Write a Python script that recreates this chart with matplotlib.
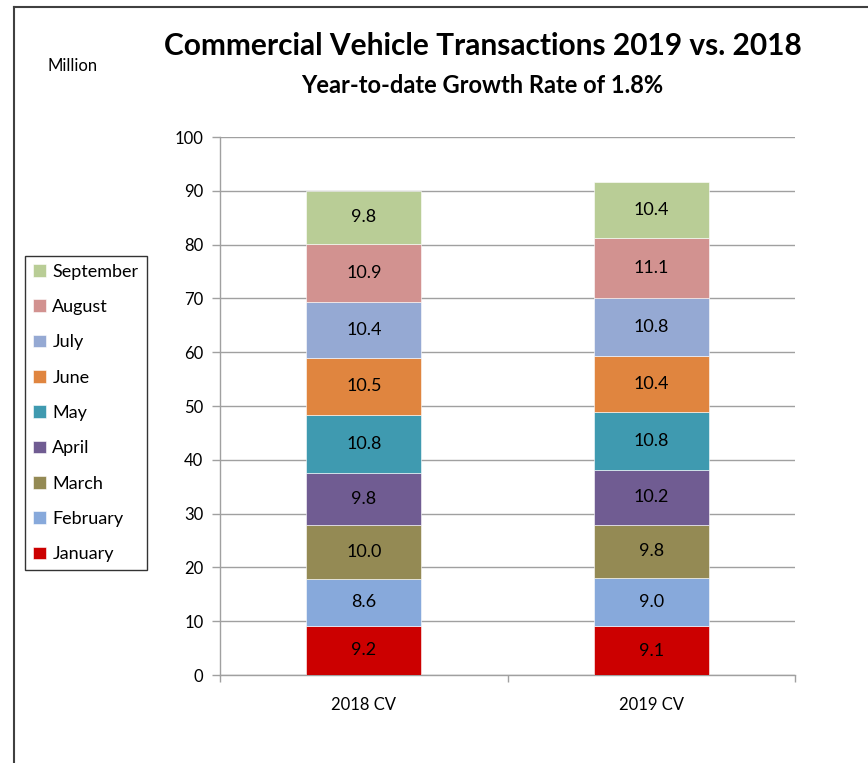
import matplotlib.pyplot as plt
from matplotlib.lines import Line2D

plt.rcParams["font.family"] = ["Lato", "DejaVu Sans"]

years = ["2018 CV", "2019 CV"]
months = ["January", "February", "March", "April", "May",
          "June", "July", "August", "September"]
values_2018 = [9.2, 8.6, 10.0, 9.8, 10.8, 10.5, 10.4, 10.9, 9.8]
values_2019 = [9.1, 9.0, 9.8, 10.2, 10.8, 10.4, 10.8, 11.1, 10.4]
colors = ["#CC0000", "#87A9DB", "#948A54", "#705C92", "#3F9AB0",
          "#E0853F", "#95A9D3", "#D29290", "#B9CD96"]

fig = plt.figure(figsize=(8.68, 7.63), dpi=100)
ax = fig.add_axes([0.2535, 0.1153, 0.6624, 0.7051])

x = [0, 1]
bottoms = [0.0, 0.0]
handles = []
for i, month in enumerate(months):
    vals = [values_2018[i], values_2019[i]]
    bars = ax.bar(x, vals, width=0.4, bottom=bottoms, color=colors[i],
                  edgecolor="white", linewidth=0.4, label=month, zorder=3)
    for xi, v, b in zip(x, vals, bottoms):
        ax.text(xi, b + v / 2, f"{v:.1f}", ha="center", va="center",
                fontsize=13, color="black", zorder=4)
    bottoms = [b + v for b, v in zip(bottoms, vals)]
    handles.append(bars)

ax.set_xlim(-0.5, 1.5)
ax.set_ylim(0, 100)
ax.set_yticks(range(0, 101, 10))
ax.set_xticks(x)
ax.set_xticklabels(years)
ax.set_xticks([-0.5, 0.5, 1.5], minor=True)
ax.tick_params(axis="x", which="major", length=0, pad=16, labelsize=12)
ax.tick_params(axis="x", which="minor", length=5, color="#A0A0A0", width=1)
ax.tick_params(axis="y", length=6, color="#A0A0A0", width=1, pad=6,
               labelsize=12)
ax.yaxis.grid(True, color="#A0A0A0", linewidth=1, zorder=0)
ax.set_axisbelow(True)
for side in ["top", "right"]:
    ax.spines[side].set_visible(False)
for side in ["left", "bottom"]:
    ax.spines[side].set_color("#A0A0A0")
    ax.spines[side].set_linewidth(1)

leg = fig.legend(handles[::-1], months[::-1], loc="upper left",
                 bbox_to_anchor=(0.029, 0.665), frameon=True, fancybox=False,
                 edgecolor="black", fontsize=13, handlelength=0.7,
                 handleheight=0.7, handletextpad=0.35, labelspacing=1.07,
                 borderpad=0.45, borderaxespad=0)
leg.get_frame().set_linewidth(1)

fig.text(0.556, 0.940, "Commercial Vehicle Transactions 2019 vs. 2018",
         ha="center", va="center", fontsize=21.5, fontweight="bold")
fig.text(0.556, 0.888, "Year-to-date Growth Rate of 1.8%",
         ha="center", va="center", fontsize=17, fontweight="bold")
fig.text(0.084, 0.913, "Million", ha="center", va="center", fontsize=12)

# outer chart border (top and left edges visible)
fig.add_artist(Line2D([0.0165, 1.0], [0.991, 0.991], color="#404040",
                      linewidth=1.5, transform=fig.transFigure))
fig.add_artist(Line2D([0.0165, 0.0165], [0.0, 0.991], color="#404040",
                      linewidth=1.5, transform=fig.transFigure))

fig.savefig("out.png", dpi=100)
